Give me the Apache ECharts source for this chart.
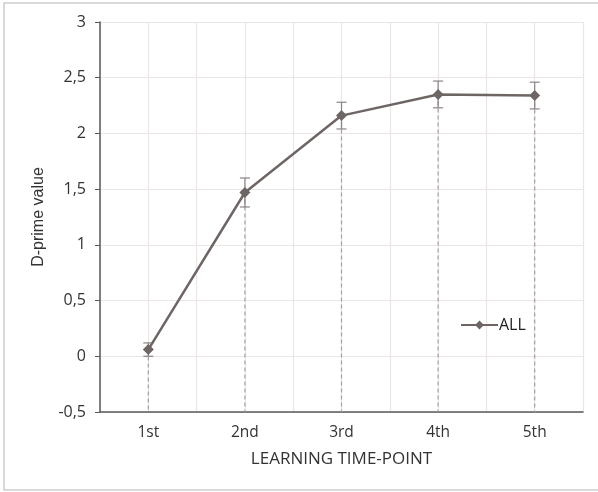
<!DOCTYPE html>
<html>
<head>
<meta charset="utf-8">
<script src="https://cdn.jsdelivr.net/npm/echarts@6/dist/echarts.min.js"></script>
<style>html,body{margin:0;padding:0;background:#fff}#c{width:598px;height:492px}</style>
</head>
<body>
<div id="c"></div>
<script>
var categories = ['1st', '2nd', '3rd', '4th', '5th'];
var values = [0.06, 1.47, 2.16, 2.35, 2.34];
var errors = [0.06, 0.13, 0.12, 0.12, 0.12];
var yTicks = { min: -0.5, max: 3, interval: 0.5 };
var seriesName = 'ALL';

var lineColor = '#6e6664';
var chart = echarts.init(document.getElementById('c'));
var errData = values.map(function (v, i) { return [i, v, errors[i]]; });

chart.setOption({
  animation: false,
  backgroundColor: '#fff',
  graphic: [{
    type: 'rect', shape: { x: 4, y: 3, width: 600, height: 487 },
    style: { fill: 'none', stroke: '#d0cccc', lineWidth: 1.5 }, silent: true
  }],
  grid: { left: 100, right: 15, top: 22, bottom: 80 },
  legend: {
    data: [{ name: seriesName }],
    left: 455, top: 312, itemWidth: 37, itemHeight: 11, itemGap: 4,
    textStyle: { fontFamily: 'Open Sans', fontSize: 16, color: '#222', padding: [0, 0, 0, -4] }
  },
  xAxis: [{
    type: 'category', data: categories, boundaryGap: true,
    name: 'LEARNING TIME-POINT', nameLocation: 'middle', nameGap: 39,
    nameTextStyle: { fontFamily: 'Open Sans', fontSize: 17, color: '#333' },
    axisLine: { onZero: false, lineStyle: { color: '#595959', width: 1.5 } },
    axisTick: { alignWithLabel: true, length: 5, lineStyle: { color: '#595959' } },
    axisLabel: { fontFamily: 'Open Sans', fontSize: 15.5, color: '#333', margin: 13 },
    splitLine: { show: false }
  }, {
    type: 'value', min: 0, max: 10, interval: 1, show: true,
    position: 'top',
    axisLine: { show: false }, axisTick: { show: false }, axisLabel: { show: false },
    splitLine: { show: true, lineStyle: { color: '#ebe5e5', width: 1.2 } }
  }],
  yAxis: {
    type: 'value', min: yTicks.min, max: yTicks.max, interval: yTicks.interval,
    name: 'D-prime value', nameLocation: 'middle', nameGap: 53,
    nameTextStyle: { fontFamily: 'Liberation Sans', fontSize: 16, color: '#333' },
    axisLine: { show: true, onZero: false, lineStyle: { color: '#595959', width: 1.5 } },
    axisTick: { show: true, length: 5, lineStyle: { color: '#595959' } },
    axisLabel: {
      fontFamily: 'Open Sans', fontSize: 16, color: '#333', margin: 14,
      formatter: function (v) { return String(v).replace('.', ','); }
    },
    splitLine: { show: true, lineStyle: { color: '#ebe5e5', width: 1.2 } }
  },
  series: [{
    type: 'custom', name: 'drops', xAxisIndex: 0, z: 1, silent: true,
    data: errData,
    renderItem: function (params, api) {
      var i = api.value(0), v = api.value(1), e = api.value(2);
      var p = api.coord([i, v]);
      var b = api.coord([i, yTicks.min]);
      var top = api.coord([i, v + e]);
      var bot = api.coord([i, v - e]);
      var cap = 5;
      return {
        type: 'group', children: [
          { type: 'line', shape: { x1: p[0], y1: p[1], x2: b[0], y2: b[1] },
            style: { stroke: '#a6a0a0', lineWidth: 1.2, lineDash: [4, 3] } },
          { type: 'line', shape: { x1: top[0], y1: top[1], x2: bot[0], y2: bot[1] },
            style: { stroke: '#8a8482', lineWidth: 1.2 } },
          { type: 'line', shape: { x1: top[0] - cap, y1: top[1], x2: top[0] + cap, y2: top[1] },
            style: { stroke: '#8a8482', lineWidth: 1.2 } },
          { type: 'line', shape: { x1: bot[0] - cap, y1: bot[1], x2: bot[0] + cap, y2: bot[1] },
            style: { stroke: '#8a8482', lineWidth: 1.2 } }
        ]
      };
    }
  }, {
    type: 'line', name: seriesName, data: values, z: 3,
    symbol: 'diamond', symbolSize: 11,
    lineStyle: { color: lineColor, width: 2.5 },
    itemStyle: { color: lineColor }
  }]
});
</script>
</body>
</html>
